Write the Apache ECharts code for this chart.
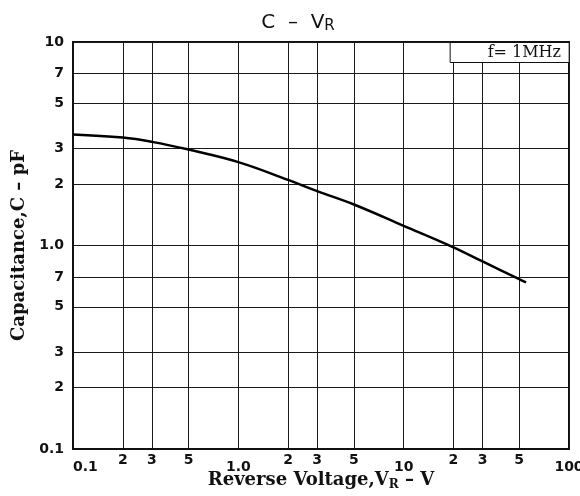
<!DOCTYPE html>
<html><head><meta charset="utf-8">
<script src="https://cdn.jsdelivr.net/npm/echarts@6/dist/echarts.min.js"></script>
<style>html,body{margin:0;padding:0;background:#fff}#c{width:580px;height:496px}</style>
</head><body><div id="c"></div>
<script>
const voltage = [0.1, 0.2, 0.3, 0.5, 1, 2, 3, 5, 10, 20, 30, 50, 55];
const capacitance = [3.51, 3.39, 3.23, 2.96, 2.57, 2.1, 1.85, 1.59, 1.25, 0.98, 0.835, 0.683, 0.658];
const xTicks = [0.1, 0.2, 0.3, 0.5, 1, 2, 3, 5, 10, 20, 30, 50, 100];
const yTicks = [0.1, 0.2, 0.3, 0.5, 0.7, 1, 2, 3, 5, 7, 10];
const xMajor = {0.1: '0.1', 1: '1.0', 10: '10', 100: '100'};
const yMajor = {0.1: '0.1', 1: '1.0', 10: '10'};

function digit(v) {
  const e = Math.floor(Math.log10(v) + 1e-9);
  return String(Math.round(v / Math.pow(10, e)));
}

const chart = echarts.init(document.getElementById('c'));
const gridColor = '#1a1a1a';
chart.setOption({
  animation: false,
  title: [{
    text: '{a|C  –  V}{s|R}',
    left: 293, top: 6, textAlign: 'center',
    textStyle: { rich: {
      a: { fontFamily: 'DejaVu Sans', fontWeight: 'normal', fontSize: 20, color: '#111' },
      s: { fontFamily: 'DejaVu Sans', fontWeight: 'normal', fontSize: 15, color: '#111', padding: [8, 0, 0, 0] }
    }}
  }, {
    text: 'f= 1MHz',
    right: 11, top: 42,
    padding: [2, 8, 1, 38],
    backgroundColor: '#fff',
    borderColor: '#111', borderWidth: 1,
    textStyle: { fontFamily: 'DejaVu Serif', fontSize: 16, lineHeight: 18, fontWeight: 'normal', color: '#111' }
  }],
  grid: { left: 73, right: 11, top: 42, bottom: 47, outerBoundsMode: 'none', containLabel: false,
    show: true, borderColor: '#111', borderWidth: 2, backgroundColor: 'transparent' },
  xAxis: {
    type: 'log', min: 0.1, max: 100, logBase: 10,
    name: '{a|Reverse Voltage,V}{s|R}{a| – V}',
    nameLocation: 'middle', nameGap: 21, nameMoveOverlap: false,
    nameTextStyle: { rich: {
      a: { fontFamily: 'DejaVu Serif', fontWeight: 'bold', fontSize: 18, color: '#111' },
      s: { fontFamily: 'DejaVu Serif', fontWeight: 'bold', fontSize: 12, color: '#111', padding: [9, 0, 0, 0] }
    }},
    axisLine: { show: true, onZero: false, lineStyle: { color: '#111', width: 2 } },
    axisTick: { show: false, customValues: xTicks },
    splitLine: { show: true, lineStyle: { color: gridColor, width: 1 } },
    axisLabel: {
      customValues: xTicks, margin: 4, alignMinLabel: 'left',
      formatter: function (v) {
        for (const k in xMajor) { if (Math.abs(v - Number(k)) < 1e-6 * Number(k)) return '{M|' + xMajor[k] + '}'; }
        return '{m|' + digit(v) + '}';
      },
      rich: {
        M: { fontFamily: 'DejaVu Sans', fontWeight: 'bold', fontSize: 14, color: '#111', padding: [7, 0, 0, 0] },
        m: { fontFamily: 'DejaVu Sans', fontWeight: 'bold', fontSize: 14, color: '#111' }
      }
    }
  },
  yAxis: {
    type: 'log', min: 0.1, max: 10, logBase: 10,
    name: 'Capacitance,C – pF',
    nameLocation: 'middle', nameGap: 44,
    nameTextStyle: { fontFamily: 'DejaVu Serif', fontWeight: 'bold', fontSize: 18, color: '#111' },
    axisLine: { show: true, onZero: false, lineStyle: { color: '#111', width: 2 } },
    axisTick: { show: false, customValues: yTicks },
    splitLine: { show: true, lineStyle: { color: gridColor, width: 1 } },
    axisLabel: {
      customValues: yTicks, margin: 9,
      fontFamily: 'DejaVu Sans', fontWeight: 'bold', fontSize: 14, color: '#111',
      formatter: function (v) {
        for (const k in yMajor) { if (Math.abs(v - Number(k)) < 1e-6 * Number(k)) return yMajor[k]; }
        return digit(v);
      }
    }
  },
  series: [{
    type: 'line',
    data: voltage.map((v, i) => [v, capacitance[i]]),
    smooth: 0.4,
    symbol: 'none',
    lineStyle: { color: '#000', width: 2.5 }
  }]
});
</script></body></html>
